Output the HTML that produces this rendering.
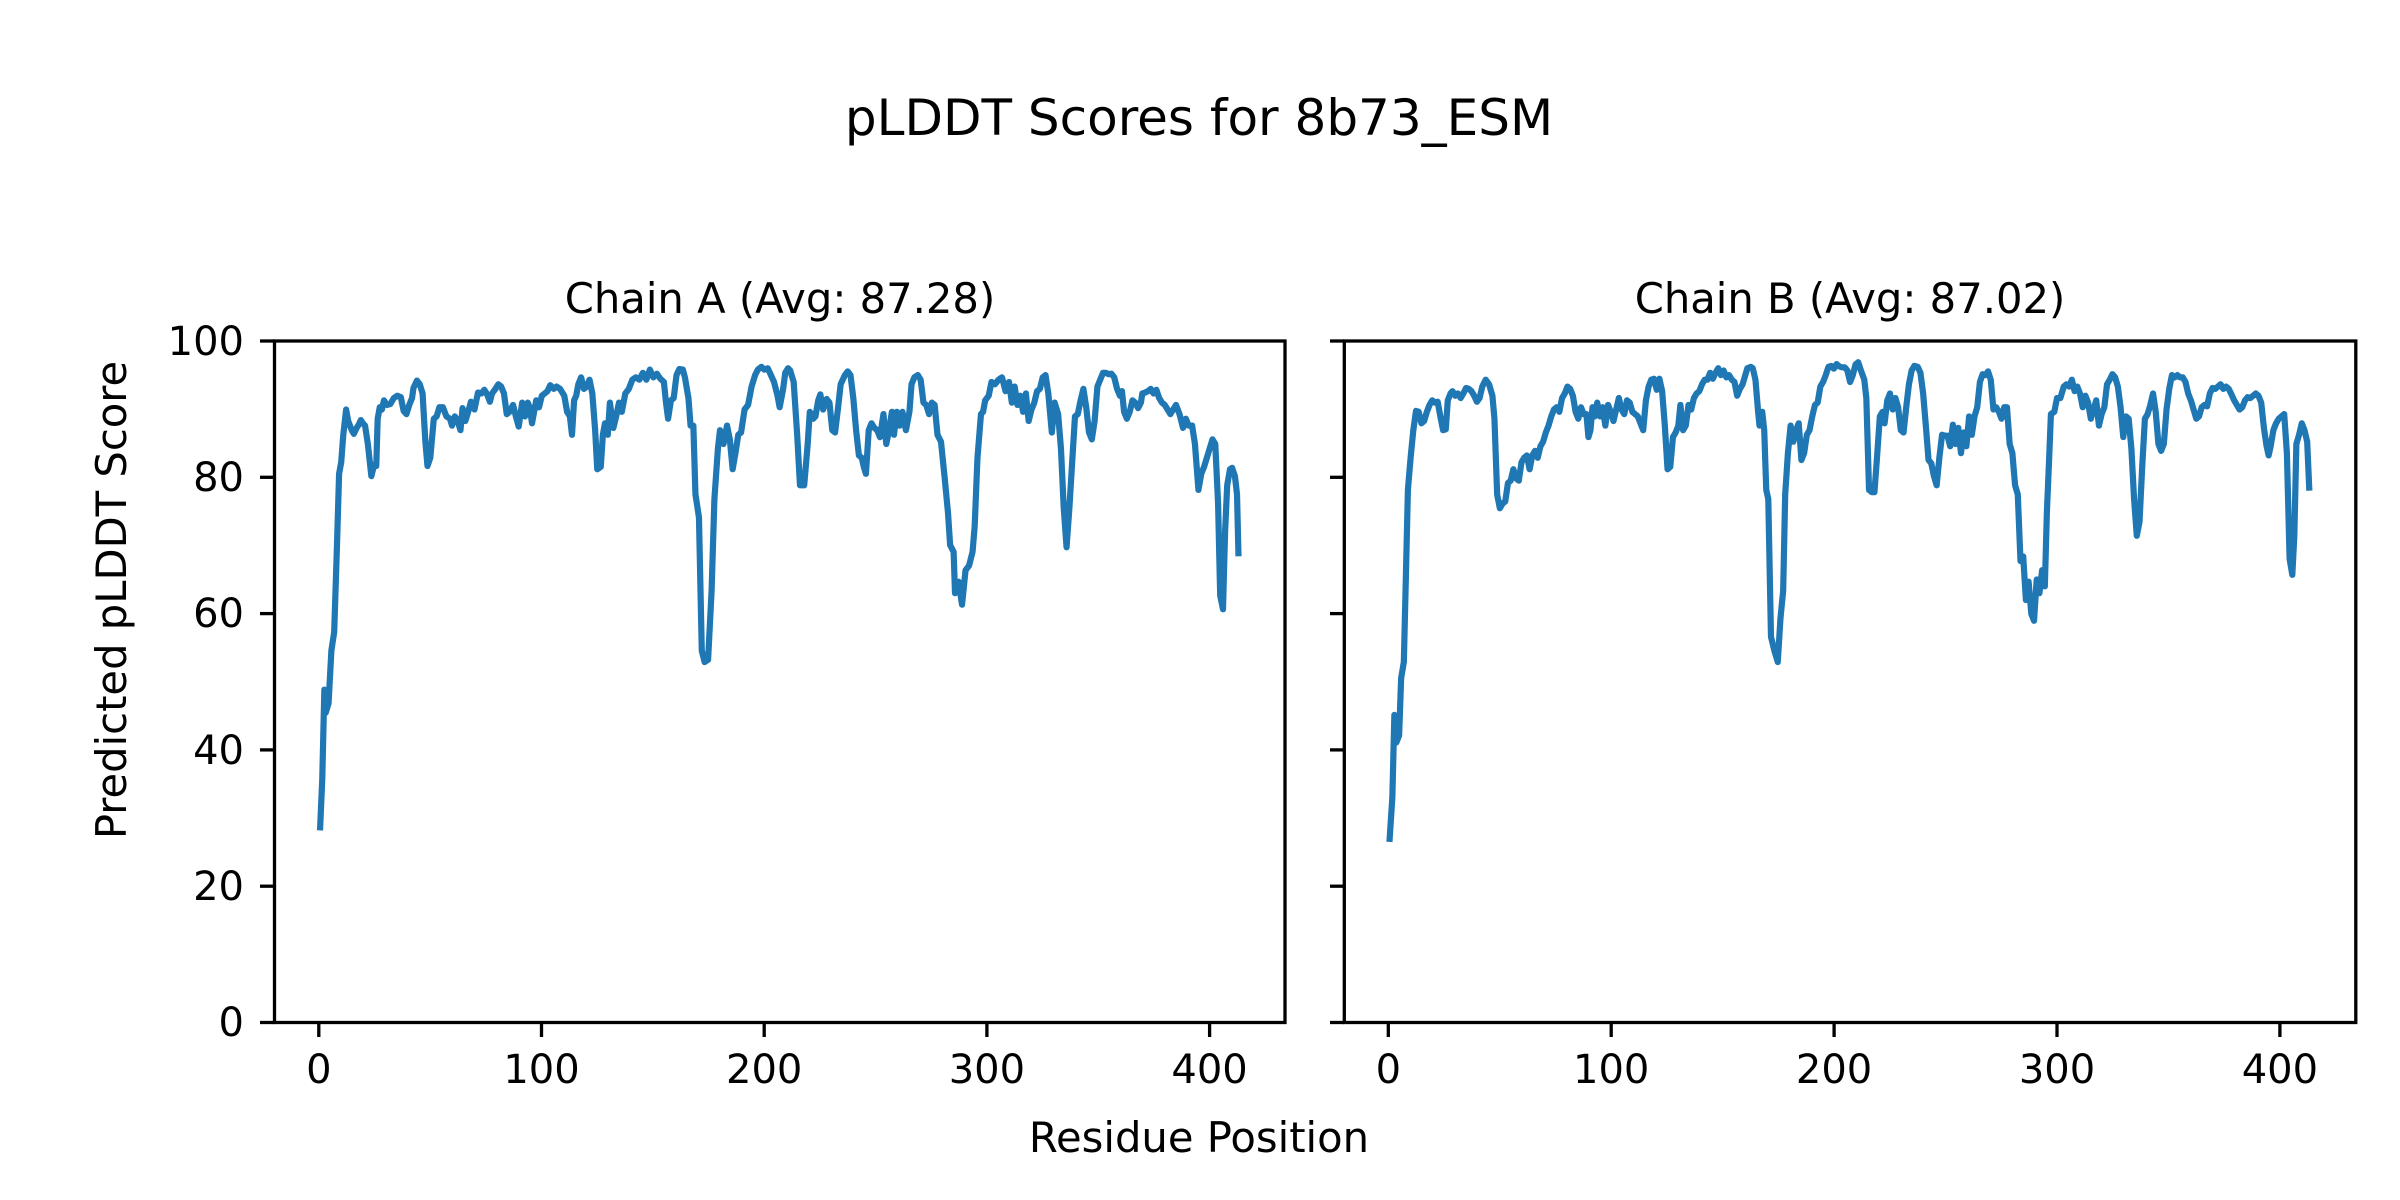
<!DOCTYPE html>
<html><head><meta charset="utf-8"><style>
html,body{margin:0;padding:0;background:#fff;}
svg{display:block;}
text{font-family:"DejaVu Sans","Liberation Sans",sans-serif;fill:#000;}
</style></head><body>
<svg width="2400" height="1200" viewBox="0 0 2400 1200" xmlns="http://www.w3.org/2000/svg">
<rect width="2400" height="1200" fill="#fff"/>
<text x="1199" y="135" font-size="50" text-anchor="middle">pLDDT Scores for 8b73_ESM</text>
<text x="780" y="313" font-size="41.7" text-anchor="middle">Chain A (Avg: 87.28)</text>
<text x="1850" y="313" font-size="41.7" text-anchor="middle">Chain B (Avg: 87.02)</text>
<text x="1199" y="1152" font-size="41.7" text-anchor="middle">Residue Position</text>
<text transform="translate(126,600) rotate(-90)" font-size="41.7" text-anchor="middle">Predicted pLDDT Score</text>

<g stroke="#000" stroke-width="3.3">
<line x1="260" y1="341" x2="274.5" y2="341"/><line x1="260" y1="477.3" x2="274.5" y2="477.3"/>
<line x1="260" y1="613.6" x2="274.5" y2="613.6"/><line x1="260" y1="749.9" x2="274.5" y2="749.9"/>
<line x1="260" y1="886.2" x2="274.5" y2="886.2"/><line x1="260" y1="1022.5" x2="274.5" y2="1022.5"/>
<line x1="1330" y1="341" x2="1344.3" y2="341"/><line x1="1330" y1="477.3" x2="1344.3" y2="477.3"/>
<line x1="1330" y1="613.6" x2="1344.3" y2="613.6"/><line x1="1330" y1="749.9" x2="1344.3" y2="749.9"/>
<line x1="1330" y1="886.2" x2="1344.3" y2="886.2"/><line x1="1330" y1="1022.5" x2="1344.3" y2="1022.5"/>
<line x1="318.8" y1="1022.5" x2="318.8" y2="1037"/><line x1="541.5" y1="1022.5" x2="541.5" y2="1037"/>
<line x1="764.2" y1="1022.5" x2="764.2" y2="1037"/><line x1="986.9" y1="1022.5" x2="986.9" y2="1037"/>
<line x1="1209.6" y1="1022.5" x2="1209.6" y2="1037"/>
<line x1="1388.3" y1="1022.5" x2="1388.3" y2="1037"/><line x1="1611.2" y1="1022.5" x2="1611.2" y2="1037"/>
<line x1="1834.1" y1="1022.5" x2="1834.1" y2="1037"/><line x1="2057" y1="1022.5" x2="2057" y2="1037"/>
<line x1="2279.9" y1="1022.5" x2="2279.9" y2="1037"/>
</g>
<g font-size="40" text-anchor="end">
<text x="244" y="355">100</text><text x="244" y="491">80</text><text x="244" y="627">60</text>
<text x="244" y="764">40</text><text x="244" y="900">20</text><text x="244" y="1036">0</text>
</g>
<g font-size="40" text-anchor="middle">
<text x="318.8" y="1083">0</text><text x="541.5" y="1083">100</text><text x="764.2" y="1083">200</text>
<text x="986.9" y="1083">300</text><text x="1209.6" y="1083">400</text>
<text x="1388.3" y="1083">0</text><text x="1611.2" y="1083">100</text><text x="1834.1" y="1083">200</text>
<text x="2057" y="1083">300</text><text x="2279.9" y="1083">400</text>
</g>

<g transform="translate(250,320) scale(0.70151,0.45914)">
<polyline vector-effect="non-scaling-stroke" fill="none" stroke="#1f77b4" stroke-width="6.2" stroke-linejoin="round" stroke-linecap="square" points="100,1105 103,1000 106,805 108,855 112,835 116,720 120,680 124,490 127,335 130,310 133,250 137,195 140,220 145,240 148,248 152,235 155,228 158,218 161,225 164,230 168,270 173,340 177,315 180,318 182,215 185,190 188,195 191,175 195,185 200,183 205,170 210,165 215,168 219,198 223,205 227,185 231,170 233,148 238,132 242,140 246,160 250,265 253,318 257,300 262,215 266,210 270,190 275,190 280,210 285,215 288,230 292,210 296,220 300,240 303,192 307,220 311,200 315,178 320,195 325,158 330,160 334,152 338,162 342,178 345,160 349,152 354,140 358,145 362,160 366,205 370,200 375,185 379,210 383,232 388,180 392,210 396,180 399,192 402,225 405,200 408,175 412,190 416,165 420,160 424,155 428,142 433,150 437,145 442,150 448,165 452,200 456,210 459,250 462,175 465,165 468,140 472,125 476,150 480,145 484,130 488,160 492,240 495,325 500,320 503,250 506,225 510,250 513,180 518,235 522,210 526,180 530,200 535,160 540,150 545,130 550,125 555,130 560,115 565,130 570,108 575,125 580,117 585,128 590,135 593,180 596,215 600,175 604,170 608,120 612,107 617,108 620,125 625,170 628,230 632,230 635,380 640,430 644,720 648,745 653,740 658,590 662,390 667,280 670,240 675,270 680,230 684,260 688,325 692,290 696,250 700,245 705,195 710,185 715,145 720,120 724,108 729,102 733,108 738,105 742,118 747,135 752,165 755,190 760,150 763,115 767,105 770,110 775,135 780,250 784,360 790,360 795,270 798,200 803,215 806,210 810,175 813,162 817,195 822,172 826,180 830,240 834,245 838,195 842,140 848,120 852,112 856,120 860,170 864,240 868,295 872,300 875,320 878,335 882,240 886,225 890,235 894,240 898,255 903,205 907,270 911,240 915,200 918,250 922,200 926,230 930,200 935,240 940,200 943,140 947,125 952,120 956,130 960,180 964,185 968,205 972,180 976,185 980,250 985,265 990,340 995,420 998,490 1003,505 1005,595 1010,570 1015,620 1020,545 1025,535 1030,505 1033,450 1037,300 1042,205 1045,200 1048,175 1053,165 1057,135 1062,140 1067,130 1072,125 1077,155 1082,135 1086,180 1090,145 1094,185 1098,165 1102,200 1106,160 1110,220 1114,195 1118,180 1122,155 1126,150 1130,125 1134,120 1138,160 1143,245 1147,180 1152,205 1156,280 1160,410 1164,495 1168,410 1172,310 1176,210 1180,205 1184,175 1188,150 1192,190 1196,245 1200,260 1204,220 1208,145 1212,130 1216,115 1220,115 1224,118 1228,117 1232,125 1236,150 1240,165 1243,155 1246,200 1250,215 1254,200 1258,175 1262,180 1266,192 1270,180 1272,160 1276,158 1280,155 1284,150 1288,160 1292,152 1296,170 1300,180 1304,185 1308,195 1312,205 1316,195 1320,185 1325,205 1330,235 1334,215 1338,230 1343,230 1347,270 1352,370 1356,335 1360,320 1364,300 1368,280 1372,260 1376,270 1380,400 1383,600 1387,630 1390,460 1393,360 1397,325 1400,322 1404,340 1407,380 1409,508"/>
</g>

<g transform="translate(1320,320) scale(0.67615,0.45914)">
<polyline vector-effect="non-scaling-stroke" fill="none" stroke="#1f77b4" stroke-width="6.2" stroke-linejoin="round" stroke-linecap="square" points="103,1130 107,1040 110,860 113,920 117,905 120,780 124,745 127,560 130,370 134,300 138,240 142,198 146,200 150,225 154,220 158,200 162,185 166,175 170,180 174,178 178,210 182,240 186,238 189,175 193,160 196,155 200,165 204,160 208,170 212,160 216,148 220,150 224,155 228,165 232,178 236,170 240,145 245,130 250,140 255,165 258,215 262,380 266,410 270,400 274,395 278,355 282,350 286,325 290,345 294,350 298,310 302,300 306,295 310,325 314,295 318,285 322,300 326,275 330,265 334,245 338,230 342,210 346,195 350,190 354,200 358,170 362,160 366,145 370,150 374,165 378,200 382,215 386,190 390,205 394,205 397,255 400,240 403,190 406,210 410,180 414,210 418,190 422,230 426,185 430,200 434,220 438,195 442,170 446,195 450,205 454,175 458,180 462,200 466,205 470,210 474,225 478,240 482,175 486,145 490,130 494,128 498,152 502,128 506,155 510,230 514,325 518,320 522,255 526,245 530,230 533,185 537,240 541,230 545,185 549,195 553,170 557,160 561,155 565,140 569,130 573,130 577,115 581,128 585,115 589,105 593,120 597,110 601,125 605,120 609,130 613,135 617,165 621,150 625,140 629,120 632,105 637,102 640,105 644,130 648,200 650,230 654,200 657,240 660,370 663,390 667,690 672,720 677,745 681,650 685,590 688,380 692,290 696,230 700,265 704,240 708,225 712,305 716,290 720,250 724,240 728,210 732,185 736,180 740,145 744,135 748,120 752,102 756,100 760,106 764,96 768,101 772,103 776,103 780,110 784,135 788,120 792,97 796,92 800,110 805,130 808,170 812,370 816,375 820,375 824,295 828,210 832,200 835,225 839,175 843,160 847,195 851,170 855,190 859,240 863,245 867,190 871,140 875,110 879,100 884,102 888,115 892,160 896,230 900,305 904,312 908,340 912,360 916,300 920,250 924,252 928,252 932,275 936,228 940,270 944,235 948,290 952,245 956,275 960,210 964,250 968,210 972,190 976,135 980,118 984,120 988,112 992,130 996,195 1000,190 1004,200 1008,215 1012,190 1016,190 1020,270 1024,290 1028,360 1032,380 1036,525 1040,515 1044,610 1048,570 1052,640 1056,655 1060,565 1064,595 1068,545 1072,580 1075,420 1078,315 1081,205 1086,200 1090,170 1095,170 1100,145 1104,140 1108,145 1112,130 1116,155 1120,145 1124,160 1128,190 1132,165 1136,180 1140,215 1144,195 1148,175 1152,230 1156,205 1160,190 1164,140 1168,130 1172,118 1176,125 1180,145 1184,190 1188,255 1192,210 1196,215 1200,280 1204,390 1208,470 1212,440 1216,320 1220,215 1224,205 1228,185 1232,160 1236,200 1240,270 1244,285 1248,270 1252,195 1256,150 1260,120 1264,125 1268,120 1272,125 1276,125 1280,135 1284,160 1288,175 1292,195 1296,215 1300,210 1304,190 1308,185 1312,188 1316,160 1320,148 1324,150 1328,145 1332,140 1336,150 1340,145 1344,150 1348,162 1352,175 1356,185 1360,195 1364,190 1368,175 1372,168 1376,170 1380,165 1384,160 1388,165 1392,180 1396,235 1400,275 1403,295 1406,275 1410,240 1414,225 1418,215 1422,210 1426,205 1430,290 1434,520 1438,555 1441,470 1444,270 1448,250 1452,225 1456,240 1460,265 1463,365"/>
</g>

<rect x="274.5" y="341" width="1010.5" height="681.5" fill="none" stroke="#000" stroke-width="3.3"/>
<rect x="1344.3" y="341" width="1011.5" height="681.5" fill="none" stroke="#000" stroke-width="3.3"/>
</svg>
</body></html>
